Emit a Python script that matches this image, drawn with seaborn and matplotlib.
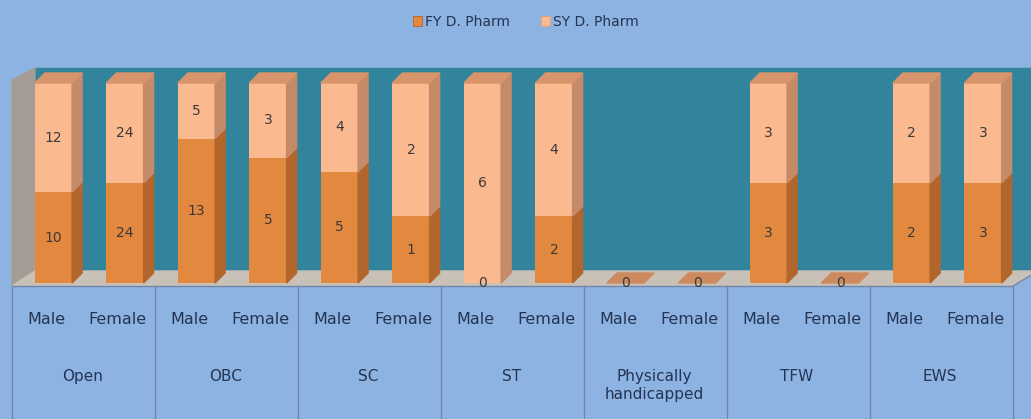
import numpy as np
import pandas as pd
import matplotlib
matplotlib.use('Agg')
import matplotlib.pyplot as plt
from matplotlib.patches import Polygon
import seaborn as sns

# ── data ─────────────────────────────────────────────────────
GROUPS  = ['Open', 'OBC', 'SC', 'ST', 'Physically\nhandicapped', 'TFW', 'EWS']
GENDERS = ['Male', 'Female']
SERIES  = ['FY D. Pharm', 'SY D. Pharm']
FY = [10, 24, 13, 5, 5, 1, 0, 2, 0, 0, 3, 0, 2, 3]
SY = [12, 24, 5, 3, 4, 2, 6, 4, 0, 0, 3, 0, 2, 3]

# ── colours ──────────────────────────────────────────────────
BG       = '#8DB3E2'
WALL     = '#31849B'
FLOOR    = '#C9C1B8'
LWALL    = '#A59D95'
FY_C     = '#E3883F'
FY_SIDE  = '#B3662C'
FY_TOP   = '#CC8A5E'
SY_C     = '#FBB990'
SY_SIDE  = '#C58B68'
SY_TOP   = '#D8956B'
TXT      = '#243452'
LBL      = '#3A3A3A'
LINE_C   = '#6F86A6'

# ── layout (data units: one bar step = 1, full bar = 1) ─────
BAR_W  = 0.52
DX, DY = 0.14, 0.05          # depth of 3D faces
XLIM   = (-0.748, 13.671)
YLIM   = (-0.68, 1.415)
X_LEFT, X_WALL, X_RIGHT = -0.580, -0.259, 13.42
Y_FRONT, Y_BACK, Y_TOP, Y_LTOP = -0.015, 0.06, 1.075, 1.015
LBL_SHIFT = -0.1
Y_GENDER, Y_GROUP = -0.185, -0.43

df = pd.DataFrame({'bar': [f'{g}|{s}' for g in GROUPS for s in GENDERS],
                   'FY': FY, 'SY': SY})
tot = (df.FY + df.SY).replace(0, np.nan)
df['fy_pct'] = (df.FY / tot).fillna(0)
df['sy_pct'] = (df.SY / tot).fillna(0)

sns.set_style('white')
plt.rcParams['font.family'] = ['DejaVu Sans']

fig = plt.figure(figsize=(10.31, 4.19), dpi=100, facecolor=BG)
ax = fig.add_axes([0, 0, 1, 1])
ax.set_facecolor('none')

# back wall, side wall, floor
ax.add_patch(Polygon([(X_WALL, Y_BACK), (XLIM[1], Y_BACK), (XLIM[1], Y_TOP), (X_WALL, Y_TOP)],
                     color=WALL, zorder=0))
ax.add_patch(Polygon([(X_LEFT, Y_FRONT), (X_WALL, Y_BACK), (X_WALL, Y_TOP), (X_LEFT, Y_LTOP)],
                     color=LWALL, zorder=0))
ax.add_patch(Polygon([(X_LEFT, Y_FRONT), (X_RIGHT, Y_FRONT), (XLIM[1] + 0.1, Y_BACK), (X_WALL, Y_BACK)],
                     color=FLOOR, zorder=0))

# stacked 100% columns
sns.barplot(data=df, x='bar', y='fy_pct', color=FY_C, saturation=1, width=BAR_W,
            errorbar=None, label=SERIES[0], linewidth=0, zorder=3, ax=ax)
sns.barplot(data=df, x='bar', y='sy_pct', color=SY_C, saturation=1, width=BAR_W,
            errorbar=None, label=SERIES[1], linewidth=0, zorder=3, ax=ax)
fy_cont, sy_cont = ax.containers[0], ax.containers[1]
for p, b in zip(sy_cont.patches, df.fy_pct):
    p.set_y(b)

# 3D side and top faces
for cont, side_c in [(fy_cont, FY_SIDE), (sy_cont, SY_SIDE)]:
    for p in cont.patches:
        x0, y0 = p.get_x(), p.get_y()
        x1, y1 = x0 + p.get_width(), y0 + p.get_height()
        if p.get_height() > 0:
            ax.add_patch(Polygon([(x1, y0), (x1 + DX, y0 + DY), (x1 + DX, y1 + DY), (x1, y1)],
                                 color=side_c, zorder=3))
for pf, ps in zip(fy_cont.patches, sy_cont.patches):
    p, c = (ps, SY_TOP) if ps.get_height() > 0 else (pf, FY_TOP)
    x0, x1 = p.get_x(), p.get_x() + p.get_width()
    y1 = p.get_y() + p.get_height()
    ax.add_patch(Polygon([(x0, y1), (x0 + DX, y1 + DY), (x1 + DX, y1 + DY), (x1, y1)],
                         color=c, zorder=3))

ax.bar_label(fy_cont, labels=[str(v) for v in FY], label_type='center',
             fontsize=10, color=LBL, zorder=5)
ax.bar_label(sy_cont, labels=[str(v) if v else '' for v in SY], label_type='center',
             fontsize=10, color=LBL, zorder=5)

# category boxes below the floor
ax.plot([X_LEFT, X_RIGHT], [Y_FRONT, Y_FRONT], color=LINE_C, lw=1, zorder=1)
ax.plot([X_RIGHT, XLIM[1] + 0.1], [Y_FRONT, Y_BACK], color=LINE_C, lw=1, zorder=1)
for k in range(len(GROUPS) + 1):
    ax.plot([X_LEFT + 2 * k] * 2, [Y_FRONT, YLIM[0]], color=LINE_C, lw=1, zorder=1)
for i in range(len(df)):
    ax.text(i + LBL_SHIFT, Y_GENDER, GENDERS[i % 2], ha='center', va='center',
            fontsize=11.5, color=TXT)
for k, g in enumerate(GROUPS):
    ax.text(2 * k + 0.5 + LBL_SHIFT, Y_GROUP, g, ha='center', va='top',
            fontsize=11, color=TXT, linespacing=1.25)

ax.set_xlim(*XLIM)
ax.set_ylim(*YLIM)
ax.axis('off')

leg = ax.legend(loc='upper center', bbox_to_anchor=(0.51, 0.995), ncol=2, frameon=False,
                fontsize=10, handlelength=0.7, handleheight=0.7, handletextpad=0.2,
                columnspacing=2.2, labelcolor=TXT)
for h, ec in zip(leg.legend_handles, [FY_SIDE, '#E0A070']):
    h.set_edgecolor(ec)
    h.set_linewidth(0.6)

fig.savefig('out.png', dpi=100, facecolor=BG)
